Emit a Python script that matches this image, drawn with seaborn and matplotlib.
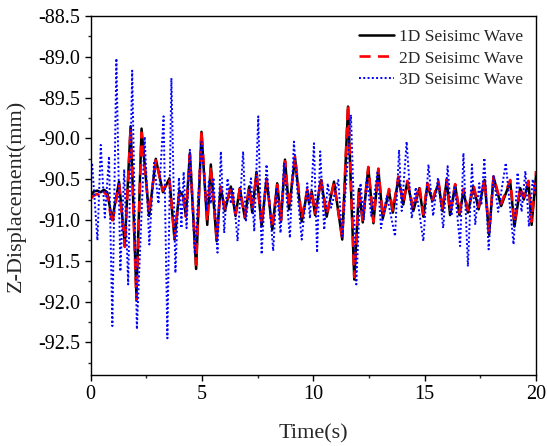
import numpy as np
import pandas as pd
import matplotlib
matplotlib.use("Agg")
import matplotlib.pyplot as plt
import seaborn as sns
from matplotlib.ticker import MultipleLocator

# ---- data ----
t_13 = [0.00, 0.15, 0.30, 0.45, 0.60, 0.75, 0.97, 1.28, 1.54, 1.80, 2.06, 2.29, 2.63,
        2.93, 3.25, 3.54, 3.77, 3.99, 4.16, 4.28, 4.46, 4.74, 4.98, 5.24, 5.40, 5.66,
        5.84, 6.03, 6.30, 6.51, 6.70, 6.93, 7.12, 7.26, 7.45, 7.68, 7.90, 8.16, 8.38,
        8.55, 8.73, 8.91, 9.18, 9.48, 9.73, 9.81, 9.93, 10.08, 10.35, 10.60, 10.93,
        11.30, 11.56, 11.84, 12.05, 12.22, 12.47, 12.70, 12.92, 13.12, 13.40, 13.57,
        13.82, 14.04, 14.22, 14.49, 14.76, 14.94, 15.12, 15.35, 15.62, 15.80, 15.99,
        16.14, 16.37, 16.56, 16.74, 16.94, 17.19, 17.42, 17.69, 17.89, 18.09, 18.43,
        18.84, 19.03, 19.29, 19.45, 19.66, 19.80, 20.00]

wave_1d = [-90.70, -90.65, -90.64, -90.66, -90.63, -90.66, -91.00, -90.53, -91.30, -89.85,
           -91.92, -89.88, -90.95, -90.25, -90.66, -90.49, -91.24, -90.64, -90.71, -90.95,
           -90.18, -91.60, -89.92, -91.06, -90.32, -91.26, -90.59, -90.89, -90.59, -90.95,
           -90.61, -90.98, -90.59, -90.91, -90.41, -91.08, -90.49, -91.12, -90.55, -91.02,
           -90.26, -90.87, -90.24, -91.02, -90.65, -90.79, -90.65, -90.94, -90.51, -90.96,
           -90.53, -91.24, -89.61, -91.73, -90.62, -91.03, -90.36, -91.04, -90.38, -90.98,
           -90.65, -90.91, -90.49, -90.81, -90.53, -90.89, -90.61, -90.96, -90.57, -90.77,
           -90.55, -90.89, -90.51, -90.94, -90.57, -90.94, -90.65, -90.91, -90.59, -90.87,
           -90.51, -91.18, -90.47, -90.83, -90.53, -91.08, -90.61, -90.75, -90.53, -91.06,
           -90.45]

wave_2d = [-90.74, -90.70, -90.68, -90.72, -90.66, -90.70, -91.05, -90.56, -91.33, -89.87,
           -91.98, -89.93, -90.92, -90.27, -90.64, -90.50, -91.22, -90.66, -90.70, -90.96,
           -90.20, -91.55, -89.90, -91.02, -90.34, -91.22, -90.60, -90.86, -90.60, -90.93,
           -90.62, -90.96, -90.60, -90.88, -90.43, -91.05, -90.50, -91.10, -90.57, -91.00,
           -90.28, -90.85, -90.22, -90.98, -90.63, -90.76, -90.63, -90.92, -90.49, -90.93,
           -90.55, -91.22, -89.58, -91.70, -90.64, -91.00, -90.35, -91.02, -90.37, -90.96,
           -90.62, -90.88, -90.47, -90.79, -90.52, -90.86, -90.58, -90.93, -90.55, -90.75,
           -90.53, -90.86, -90.50, -90.90, -90.56, -90.91, -90.62, -90.88, -90.57, -90.84,
           -90.50, -91.15, -90.47, -90.80, -90.51, -91.04, -90.60, -90.72, -90.52, -91.02,
           -90.40]

t_3d = [0.00, 0.07, 0.31, 0.46, 0.64, 0.83, 0.98, 1.16, 1.34, 1.51, 1.69, 1.87, 2.08,
        2.43, 2.64, 2.85, 3.05, 3.28, 3.45, 3.63, 3.81, 3.97, 4.08, 4.18, 4.31, 4.46,
        4.68, 4.98, 5.21, 5.31, 5.40, 5.52, 5.70, 5.85, 6.00, 6.15, 6.30, 6.40, 6.60,
        6.85, 6.97, 7.20, 7.35, 7.53, 7.68, 7.90, 8.20, 8.35, 8.53, 8.68, 8.95, 9.13,
        9.30, 9.48, 9.73, 9.85, 10.03, 10.17, 10.31, 10.49, 10.65, 10.80, 11.12, 11.30,
        11.69, 11.93, 12.12, 12.27, 12.40, 12.60, 12.88, 13.04, 13.30, 13.67, 13.85,
        13.97, 14.19, 14.42, 14.60, 14.94, 15.17, 15.38, 15.60, 15.83, 16.03, 16.20,
        16.35, 16.59, 16.74, 16.94, 17.12, 17.27, 17.45, 17.55, 17.68, 17.87, 18.09,
        18.30, 18.64, 18.99, 19.17, 19.35, 19.52, 19.68, 19.85, 20.00]

wave_3d = [-90.55, -90.30, -91.25, -90.08, -90.97, -90.22, -92.30, -89.02, -91.63, -90.38,
           -91.79, -89.17, -92.34, -89.98, -91.30, -90.30, -90.80, -89.73, -92.45, -89.26,
           -91.65, -90.48, -91.10, -90.41, -91.10, -90.14, -91.42, -90.04, -90.89, -90.53,
           -90.80, -90.48, -91.40, -90.16, -91.16, -90.49, -90.80, -90.62, -91.26, -90.16,
           -91.02, -90.49, -91.14, -89.73, -91.42, -90.32, -91.38, -90.60, -91.16, -90.30,
           -91.22, -90.04, -90.70, -91.24, -90.55, -90.98, -90.06, -91.40, -90.16, -91.12,
           -90.55, -90.85, -90.51, -91.22, -89.71, -91.79, -90.55, -91.00, -90.49, -90.95,
           -90.42, -91.10, -90.70, -91.20, -90.14, -90.89, -90.04, -90.98, -90.60, -91.26,
           -90.32, -90.95, -90.48, -91.10, -90.34, -90.95, -90.60, -91.32, -90.18, -91.57,
           -90.32, -91.06, -90.55, -90.80, -90.24, -91.36, -90.45, -90.90, -90.30, -91.30,
           -90.42, -90.90, -90.40, -91.08, -90.50, -90.70]

labels = ["1D Seisimc Wave", "2D Seisimc Wave", "3D Seisimc Wave"]

# ---- styling ----
sns.set_style("ticks")
plt.rcParams["font.family"] = ["Liberation Serif", "DejaVu Serif"]
plt.rcParams["mathtext.fontset"] = "stix"

fig = plt.figure(figsize=(5.47, 4.46), dpi=100)
ax = fig.add_axes([0.1655, 0.1592, 0.8145, 0.8049])

sns.lineplot(x=t_13, y=wave_1d, ax=ax, color="black", linewidth=1.8,
             label=labels[0], estimator=None, sort=False)
sns.lineplot(x=t_13, y=wave_2d, ax=ax, color="#ff0000", linewidth=1.9,
             label=labels[1], estimator=None, sort=False)
sns.lineplot(x=t_3d, y=wave_3d, ax=ax, color="#0000ff", linewidth=1.4,
             label=labels[2], estimator=None, sort=False)

for ln in ax.lines[:3]:
    ln.set_solid_joinstyle("round")
    ln.set_dash_joinstyle("round")
ax.lines[1].set_dashes([4.2, 2.8])
ax.lines[2].set_dashes([1.0, 1.2])

ax.set_xlim(0, 20)
ax.set_ylim(-92.9, -88.5)
ax.xaxis.set_major_locator(MultipleLocator(5))
ax.xaxis.set_minor_locator(MultipleLocator(2.5))
ax.yaxis.set_major_locator(MultipleLocator(0.5))
ax.yaxis.set_minor_locator(MultipleLocator(0.25))
ax.yaxis.set_major_formatter(matplotlib.ticker.FormatStrFormatter("%.1f"))

for s in ax.spines.values():
    s.set_visible(True)
    s.set_linewidth(1.0)
    s.set_color("black")

ax.tick_params(which="major", direction="out", length=4, width=1.0,
               labelsize=14.5, colors="black", top=False, right=False)
ax.tick_params(which="minor", direction="out", length=2.5, width=1.0,
               top=False, right=False)

ax.set_xlabel("Time(s)", fontsize=16, labelpad=14)
ax.set_ylabel("Z-Displacement(mm)", fontsize=16, labelpad=9)

leg = ax.legend(loc="upper right", frameon=False, fontsize=12.5,
                handlelength=2.0, handletextpad=0.3, labelspacing=0.3,
                borderaxespad=0.25, borderpad=0.5)

fig.savefig("out.png", dpi=100)
